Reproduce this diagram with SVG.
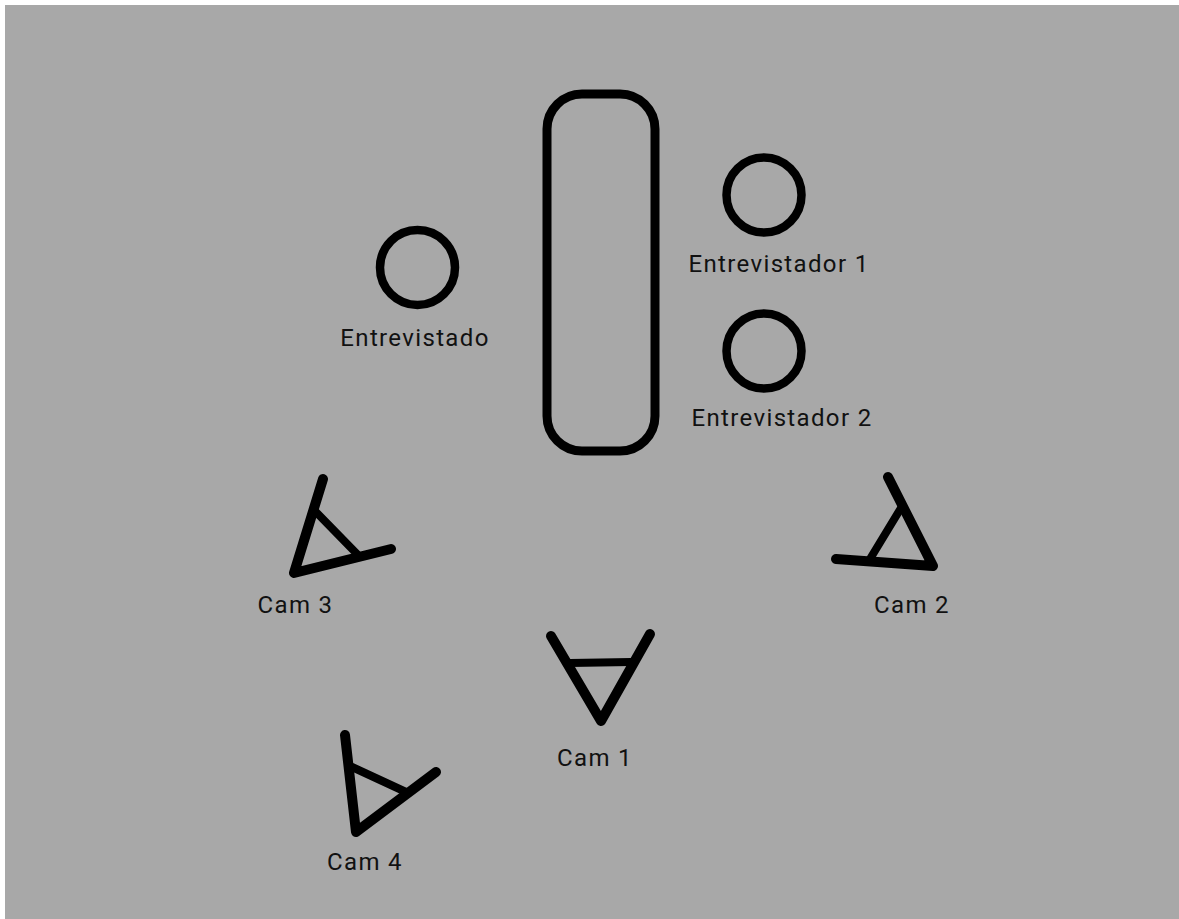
<svg xmlns="http://www.w3.org/2000/svg" width="1179" height="919" viewBox="0 0 1179 919">
<style>
.s{fill:none;stroke:#000;stroke-width:9;stroke-linecap:round;stroke-linejoin:round}
.o{fill:none;stroke:#000;stroke-width:8.500}
.c{fill:none;stroke:#000;stroke-width:10;stroke-linecap:round;stroke-linejoin:round}
.i{fill:none;stroke:#000;stroke-width:8;stroke-linecap:round}
text{font-family:Roboto,"Liberation Sans",sans-serif;font-size:24px;letter-spacing:1.35px;fill:#111;text-anchor:middle}
</style>
<rect width="1179" height="919" fill="#fff"/>
<rect x="5" y="5" width="1174" height="914" fill="#a8a8a8"/>
<g id="mesa"><rect class="s" x="547" y="94" width="108" height="357" rx="35"/></g>
<g id="entrevistado"><circle class="o" cx="417.500" cy="267.500" r="37.500"/><text x="415" y="346">Entrevistado</text></g>
<g id="entrevistador1"><circle class="o" cx="764" cy="195" r="37.500"/><text x="779" y="272">Entrevistador 1</text></g>
<g id="entrevistador2"><circle class="o" cx="764" cy="351" r="37.500"/><text x="782" y="426">Entrevistador 2</text></g>
<g id="cam3"><path class="c" d="M323 479L294 573L391 549"/><path class="i" d="M316 512L358 555"/><text x="295.500" y="613">Cam 3</text></g>
<g id="cam2"><path class="c" d="M888 477L933 566L836 559"/><path class="i" d="M901 508L870 559"/><text x="912" y="613">Cam 2</text></g>
<g id="cam1"><path class="c" d="M551 636L601 721L650 634"/><path class="i" d="M570 663L631 662"/><text x="595" y="766">Cam 1</text></g>
<g id="cam4"><path class="c" d="M345 735L356 832L436 772"/><path class="i" d="M352 767L406 792"/><text x="365" y="870">Cam 4</text></g>
<g id="connectors"></g>
</svg>
